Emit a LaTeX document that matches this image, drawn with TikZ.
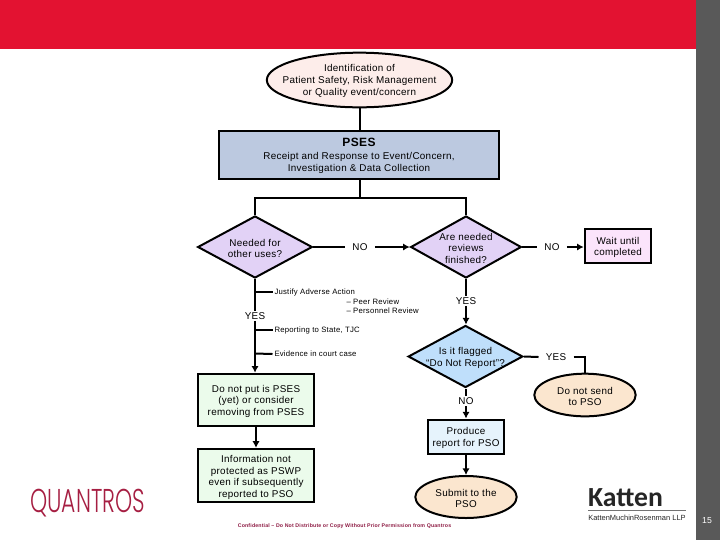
\documentclass[tikz,border=0pt]{standalone}
\usepackage{fontspec}
\setmainfont[LetterSpace=3]{Liberation Sans}
\newfontfamily\kfont{Carlito}
\newfontfamily\qfont{Poppins Light}
\newfontfamily\plainfont{Liberation Sans}
\usetikzlibrary{shapes.geometric,arrows.meta}
\newcommand{\tp}{\rule{0pt}{7.2pt}}
\definecolor{redband}{HTML}{E31231}
\definecolor{greyband}{HTML}{595959}
\definecolor{boxblue}{HTML}{BCC9E0}
\definecolor{ellpink}{HTML}{FDEDEA}
\definecolor{dialilac}{HTML}{E2D2F6}
\definecolor{diablue}{HTML}{BFDFFB}
\definecolor{boxmag}{HTML}{FBE4FB}
\definecolor{boxgreen}{HTML}{EBFBEB}
\definecolor{boxpale}{HTML}{E6F3FC}
\definecolor{ellpeach}{HTML}{FBE6CF}
\definecolor{logored}{HTML}{A61E42}
\definecolor{footred}{HTML}{8E1C44}
\tikzset{
  txt/.style={font=\fontsize{7.4pt}{8.6pt}\selectfont,align=center},
  base/.style={txt,draw=black,line width=1.5pt,inner sep=0pt},
  ell/.style={base,ellipse,inner xsep=-30pt,inner ysep=-12pt},
  dia/.style={base,diamond,aspect=1.84,inner xsep=-12pt,inner ysep=-6pt},
  rct/.style={base,rectangle},
  lab/.style={txt,inner sep=0pt,outer xsep=5.5pt,outer ysep=1pt},
  sidetxt/.style={font=\fontsize{5.8pt}{7pt}\selectfont,inner sep=0pt,outer xsep=1.5pt,anchor=west},
  conn/.style={line width=1.5pt},
  arr/.style={conn,-{Latex[length=5pt,width=5.5pt]}}
}
\begin{document}
\begin{tikzpicture}[x=0.75pt,y=-0.75pt]
\useasboundingbox (0,0) rectangle (720,540);
\fill[white] (0,0) rectangle (720,540);
\fill[redband] (0,0) rectangle (696,49);
\fill[greyband] (696,0) rectangle (720,540);

\node[ell,fill=ellpink,minimum width=139pt,minimum height=41pt,font=\fontsize{7.4pt}{9pt}\selectfont] (start) at (359.5,80) {\tp Identification of\\Patient Safety, Risk Management\\or Quality event/concern};
\node[rct,fill=boxblue,minimum width=210.5pt,minimum height=36pt,font=\fontsize{7.4pt}{9pt}\selectfont] (pses) at (359,154.5) {\rule{0pt}{8.2pt}{\fontsize{9pt}{11pt}\selectfont\bfseries PSES}\\[1pt]Receipt and Response to Event/Concern,\\Investigation \& Data Collection};
\coordinate (split) at (360,198);
\coordinate (splitL) at (255,198);
\coordinate (splitR) at (466,198);

\node[dia,fill=dialilac,minimum width=86pt,minimum height=46.5pt] (uses) at (255,247) {\tp Needed for\\other uses?};
\node[dia,fill=dialilac,minimum width=83pt,minimum height=46.5pt] (rev) at (466,247) {\tp Are needed\\reviews\\finished?};
\node[rct,fill=boxmag,minimum width=50pt,minimum height=26pt] (wait) at (618,246) {\tp Wait until\\completed};
\node[dia,fill=diablue,minimum width=86pt,minimum height=46.5pt] (flag) at (465.5,356.5) {\tp Is it flagged\\``Do Not Report''?};
\node[ell,fill=ellpeach,minimum width=76pt,minimum height=32pt] (nosend) at (585,395) {\tp Do not send\\to PSO};
\node[rct,fill=boxgreen,minimum width=87.5pt,minimum height=39.5pt] (donot) at (256,400) {\tp Do not put is PSES\\(yet) or consider\\removing from PSES};
\node[rct,fill=boxgreen,minimum width=87.5pt,minimum height=40pt] (info) at (256,475.5) {\rule{0pt}{8pt}Information not\\protected as PSWP\\even if subsequently\\reported to PSO};
\node[rct,fill=boxpale,minimum width=57.5pt,minimum height=25.5pt] (prod) at (466,436.5) {\tp Produce\\report for PSO};
\node[ell,fill=ellpeach,minimum width=76pt,minimum height=31.5pt] (submit) at (466,497) {\tp Submit to the\\PSO};

\node[lab] (no1) at (360,247) {NO};
\node[lab] (no2) at (552,247) {NO};
\node[lab] (yes1) at (255,316) {YES};
\node[lab] (yes2) at (466,301) {YES};
\node[lab] (yes3) at (556,357) {YES};
\node[lab] (no3) at (466,401) {NO};

\coordinate (t1) at (255,292);
\coordinate (t2) at (255,330);
\coordinate (t3) at (255,353.5);
\node[sidetxt] (j1) at (272.5,292) {Justify Adverse Action};
\node[sidetxt] (j2) at (344.5,302) {-- Peer Review};
\node[sidetxt] (j3) at (344.5,311) {-- Personnel Review};
\node[sidetxt] (j4) at (272.5,330) {Reporting to State, TJC};
\node[sidetxt] (j5) at (272.5,354) {Evidence in court case};

\draw[conn] (start.south -| split) -- (pses.north -| split);
\draw[conn] (pses.south -| split) -- (split);
\draw[conn] (uses.north) -- (splitL) -- (splitR) -- (rev.north);
\draw[conn] (uses.east) -- (no1.west);
\draw[arr] (no1.east) -- (rev.west);
\draw[conn] (rev.east) -- (no2.west);
\draw[arr] (no2.east) -- (wait.west |- no2.east);
\draw[conn] (uses.south) -- (yes1.north);
\draw[arr] (yes1.south) -- (donot.north -| yes1.south);
\draw[conn] (t1) -- (j1.west);
\draw[conn] (t2) -- (j4.west);
\draw[conn] (t3) -- (j5.west);
\draw[conn] (rev.south) -- (yes2.north);
\draw[arr] (yes2.south) -- (flag.north -| yes2.south);
\draw[conn] (flag.east) -- (yes3.west);
\draw[conn] (yes3.east) -| (nosend.north);
\draw[conn] (flag.south -| no3.north) -- (no3.north);
\draw[arr] (no3.south) -- (prod.north);
\draw[arr] (prod.south) -- (submit.north);
\draw[arr] (donot.south) -- (info.north);

\node[inner sep=0pt,text=footred] (foot) at (344.5,526) {\resizebox{160pt}{!}{\fontsize{6pt}{7pt}\selectfont\bfseries Confidential -- Do Not Distribute or Copy Without Prior Permission from Quantros}};
\node[inner sep=0pt,text=logored] (qlogo) at (87.5,503.5) {\resizebox{86pt}{17.5pt}{\qfont QUANTROS}};
\node[inner sep=0pt,text=black!85] (klogo) at (625.5,497.5) {\resizebox{56pt}{!}{\kfont\bfseries Katten}};
\coordinate (ka) at (588,510.5);
\coordinate (kb) at (686,510.5);
\draw[black!55,line width=0.7pt] (ka) -- (kb);
\node[inner sep=0pt,text=black!85] (kname) at (637,517.5) {\resizebox{73pt}{!}{\plainfont\fontsize{6pt}{7pt}\selectfont KattenMuchinRosenman LLP}};
\node[inner sep=0pt,text=white,font=\fontsize{6.5pt}{8pt}\selectfont] (pageno) at (707,521) {15};
\end{tikzpicture}
\end{document}
